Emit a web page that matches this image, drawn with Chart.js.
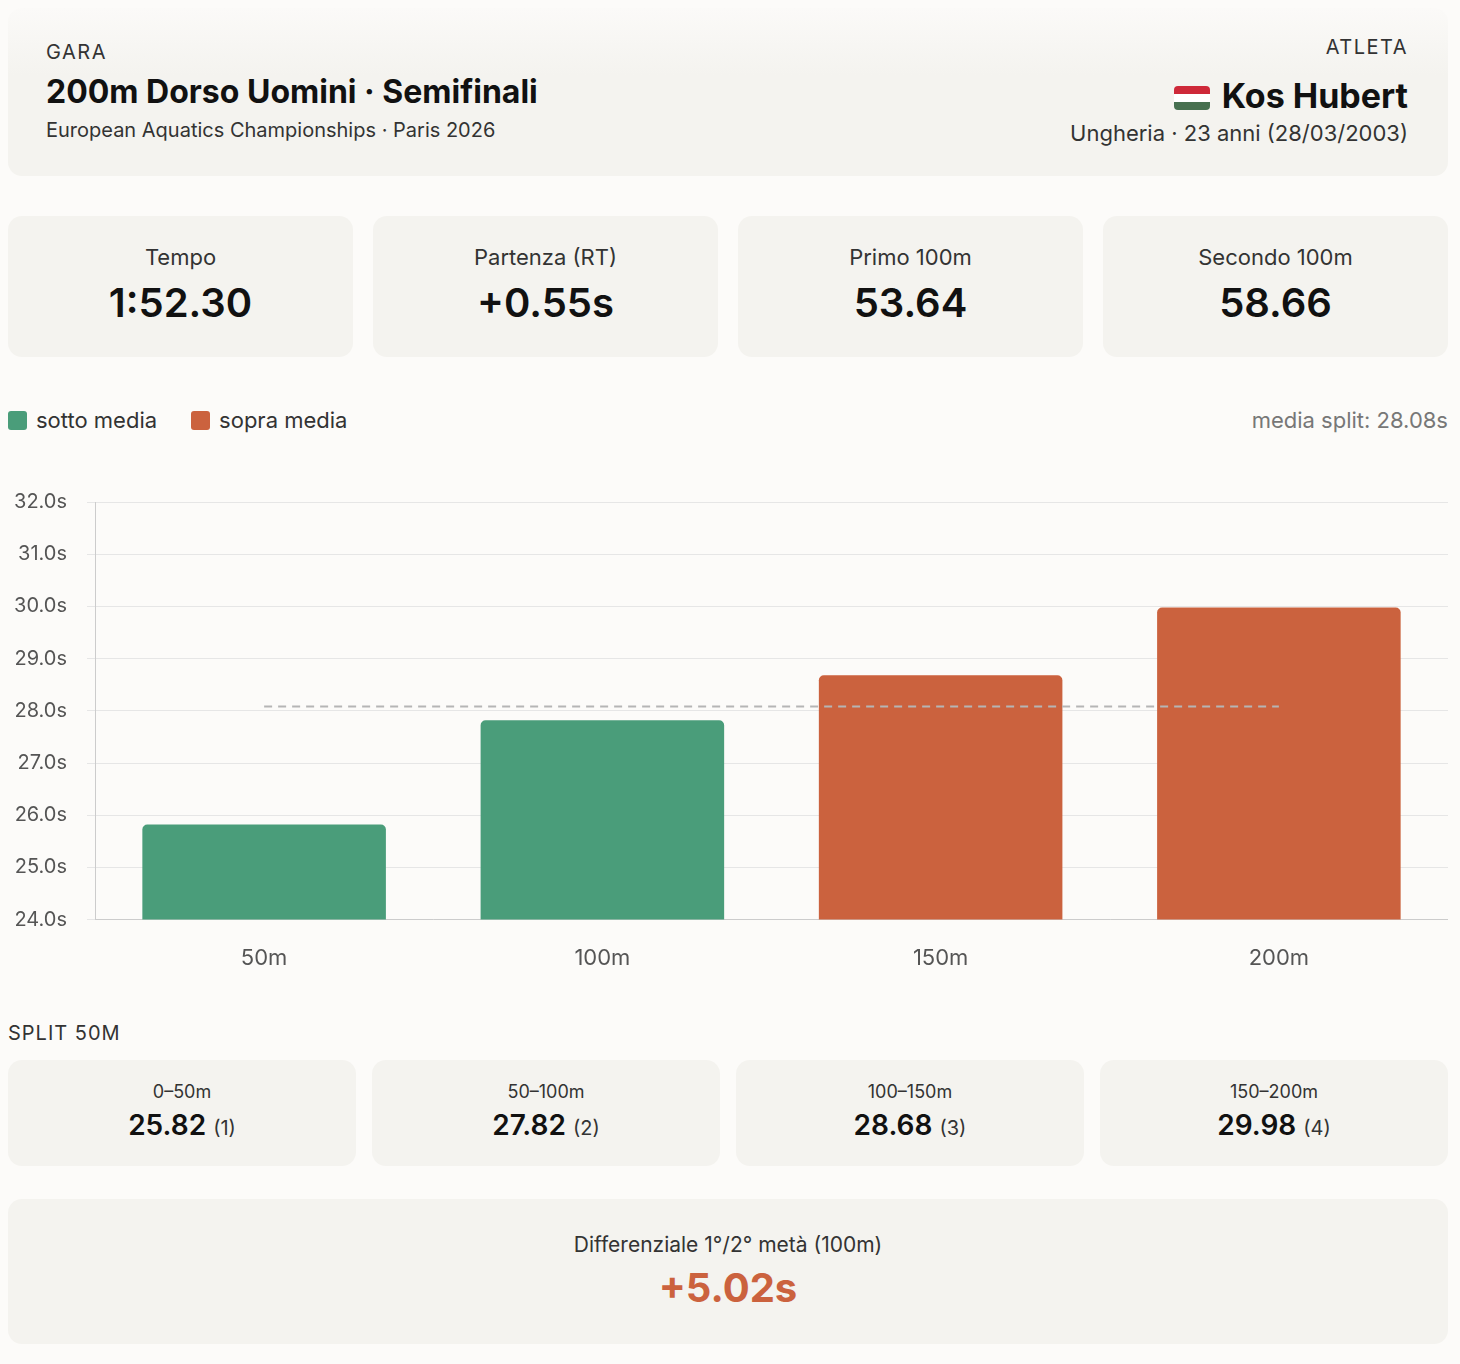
<!DOCTYPE html>
<html><head><meta charset="utf-8">
<script src="https://cdn.jsdelivr.net/npm/chart.js@4"></script>
<style>
*{box-sizing:border-box}
body{margin:0;background:#fcfbf9;font-family:Inter,"Noto Sans",sans-serif;color:#111;width:1460px;height:1364px;position:relative}
.card{background:#f4f3ef;border-radius:14px;position:absolute}
.abs{position:absolute}
.flag{display:inline-block;width:36px;height:24px;vertical-align:-2px;margin-right:12px;border-radius:4px;overflow:hidden;background:linear-gradient(#ce2939 0 33.3%,#fff 33.3% 66.6%,#477050 66.6%)}
.stat{top:216px;height:141px;width:345px;text-align:center}
.stat .l{font-size:22px;color:#333;margin-top:28px}
.stat .v{font-size:40px;font-weight:600;margin-top:8px}
.sp{top:1060px;height:106px;width:348px;text-align:center}
.sp .l{font-size:18px;color:#333;margin-top:21px}
.sp .v{font-size:28px;font-weight:600;margin-top:6px}
.sp .v small{font-size:20px;font-weight:400;color:#333}
</style></head><body>
<div class="card" style="left:8px;top:8px;width:1440px;height:168px;background:linear-gradient(#fbfaf8,#f4f3ef 40%)">
 <div class="abs" style="left:38px;top:32px;font-size:20px;letter-spacing:1.5px;color:#333">GARA</div>
 <div class="abs" style="left:38px;top:64px;font-size:32px;font-weight:700">200m Dorso Uomini · Semifinali</div>
 <div class="abs" style="left:38px;top:110px;font-size:20px;color:#333">European Aquatics Championships · Paris 2026</div>
 <div class="abs" style="right:40px;top:27px;font-size:20px;letter-spacing:1.5px;color:#333">ATLETA</div>
 <div class="abs" style="right:40px;top:67px;font-size:34px;font-weight:700"><span class="flag"></span>Kos Hubert</div>
 <div class="abs" style="right:40px;top:112px;font-size:22px;color:#333">Ungheria · 23 anni (28/03/2003)</div>
</div>
<div class="card stat" style="left:8px"><div class="l">Tempo</div><div class="v">1:52.30</div></div>
<div class="card stat" style="left:373px"><div class="l">Partenza (RT)</div><div class="v">+0.55s</div></div>
<div class="card stat" style="left:738px"><div class="l">Primo 100m</div><div class="v">53.64</div></div>
<div class="card stat" style="left:1103px"><div class="l">Secondo 100m</div><div class="v">58.66</div></div>
<div class="abs" style="left:8px;top:407px;font-size:22px;color:#333"><span style="display:inline-block;width:19px;height:19px;border-radius:3px;background:#4a9d7a;vertical-align:-2px;margin-right:9px"></span>sotto media<span style="display:inline-block;width:19px;height:19px;border-radius:3px;background:#cb623e;vertical-align:-2px;margin:0 9px 0 34px"></span>sopra media</div>
<div class="abs" style="right:12px;top:407px;font-size:22px;color:#777">media split: 28.08s</div>
<div class="abs" style="left:8px;top:470px;width:1440px;height:520px"><canvas id="c"></canvas></div>
<div class="abs" style="left:8px;top:1021px;font-size:20px;letter-spacing:1px;color:#333">SPLIT 50M</div>
<div class="card sp" style="left:8px"><div class="l">0–50m</div><div class="v">25.82 <small>(1)</small></div></div>
<div class="card sp" style="left:372px"><div class="l">50–100m</div><div class="v">27.82 <small>(2)</small></div></div>
<div class="card sp" style="left:736px"><div class="l">100–150m</div><div class="v">28.68 <small>(3)</small></div></div>
<div class="card sp" style="left:1100px"><div class="l">150–200m</div><div class="v">29.98 <small>(4)</small></div></div>
<div class="card" style="left:8px;top:1199px;width:1440px;height:145px;text-align:center">
 <div style="font-size:21px;color:#333;margin-top:33px">Differenziale 1°/2° metà (100m)</div>
 <div style="font-size:40px;font-weight:700;color:#cb623e;margin-top:6px">+5.02s</div>
</div>
<script>
const categories=["50m","100m","150m","200m"];
const splits=[25.82,27.82,28.68,29.98];
const mediaSplit=28.08;
const yTicks=[24,25,26,27,28,29,30,31,32];
const colors=splits.map(v=>v<mediaSplit?"#4a9d7a":"#cb623e");
new Chart(document.getElementById("c"),{
 data:{labels:categories,datasets:[
  {type:"line",data:categories.map(()=>mediaSplit),borderColor:"#b5b5b5",borderWidth:2,borderDash:[8,6],pointRadius:0,order:0},
  {type:"bar",data:splits,backgroundColor:colors,borderRadius:{topLeft:5,topRight:5},borderSkipped:"bottom",barPercentage:0.72,categoryPercentage:1,order:1}
 ]},
 options:{responsive:true,maintainAspectRatio:false,animation:false,
  layout:{padding:{top:18,right:0}},
  plugins:{legend:{display:false},tooltip:{enabled:false}},
  scales:{
   x:{grid:{display:false},border:{color:"#ccc"},ticks:{color:"#555",font:{family:"Inter",size:22},padding:18}},
   y:{min:24,max:32,afterFit:s=>{s.width=87},afterBuildTicks:s=>{s.ticks=yTicks.map(v=>({value:v}))},
      grid:{color:"#e6e6e6"},border:{color:"#ccc"},
      ticks:{color:"#555",font:{family:"Inter",size:20},callback:v=>v.toFixed(1)+"s",padding:20}}
  }}
});
</script>
</body></html>
